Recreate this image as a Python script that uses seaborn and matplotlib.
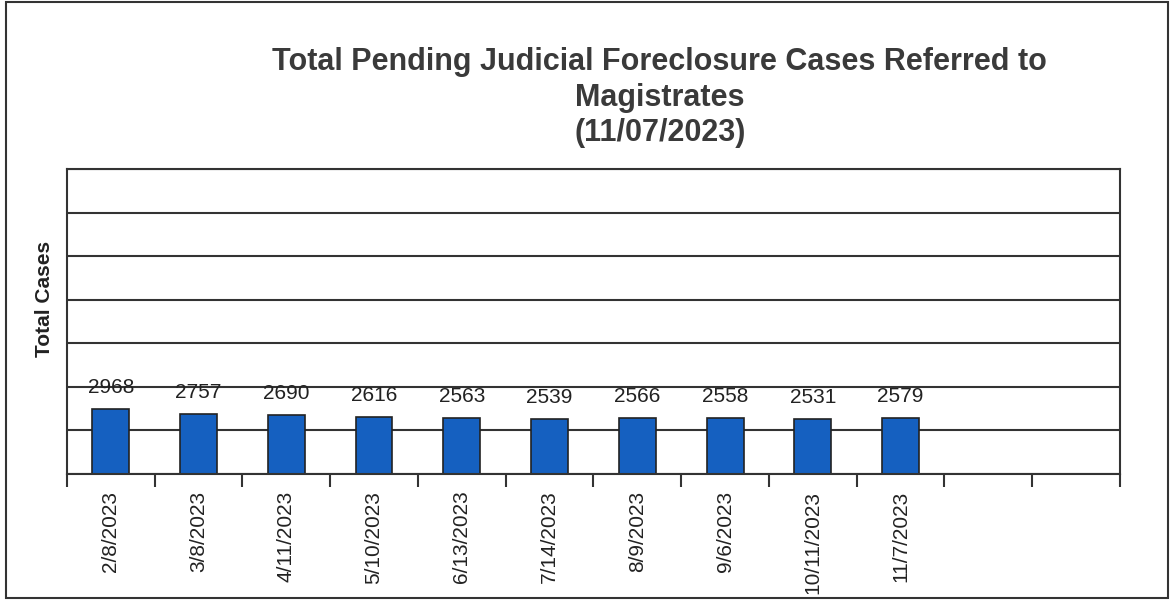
import numpy as np
import pandas as pd
import matplotlib
matplotlib.use("Agg")
import matplotlib.pyplot as plt
import seaborn as sns

# data
dates = ["2/8/2023", "3/8/2023", "4/11/2023", "5/10/2023", "6/13/2023",
         "7/14/2023", "8/9/2023", "9/6/2023", "10/11/2023", "11/7/2023"]
cases = [2968, 2757, 2690, 2616, 2563, 2539, 2566, 2558, 2531, 2579]
n_slots = 12  # chart leaves two empty slots on the right

df = pd.DataFrame({"date": dates, "cases": cases})

sns.set_theme(style="white")
plt.rcParams["font.family"] = ["Liberation Sans", "DejaVu Sans"]

fig = plt.figure(figsize=(11.74, 6.0), dpi=100)
ax = fig.add_axes([0.057, 0.21, 0.897, 0.508])

sns.barplot(data=df, x="date", y="cases", order=dates, color="#1560c0",
            saturation=1, width=0.42, edgecolor="#222222", linewidth=1.2, ax=ax)

ax.set_xlim(-0.5, n_slots - 0.5)
ax.set_ylim(0, 14000)
ax.set_yticks(np.arange(0, 14001, 2000))
ax.yaxis.grid(True, color="#333333", linewidth=1.5)
ax.set_axisbelow(True)
ax.tick_params(axis="y", left=False, labelleft=False)

# tick marks between categories, labels under bars
ax.set_xticks(range(len(dates)))
ax.set_xticklabels(dates, rotation=90, fontsize=15, color="#222222")
ax.set_xticks(np.arange(-0.5, n_slots, 1), minor=True)
ax.tick_params(axis="x", which="major", length=0, pad=12)
ax.tick_params(axis="x", which="minor", bottom=True, length=9, width=1.5,
               color="#333333", direction="out")

for s in ax.spines.values():
    s.set_color("#333333")
    s.set_linewidth(1.5)

for i, v in enumerate(cases):
    ax.text(i, v + 550, str(v), ha="center", va="bottom", fontsize=15,
            color="#222222")

ax.set_xlabel("")
ax.set_ylabel("Total Cases", fontsize=15, fontweight="bold", color="#222222")
ax.yaxis.set_label_coords(-0.012, 0.574)

title_kw = dict(ha="center", va="center", fontsize=22, fontweight="bold",
                color="#3a3a3a")
fig.text(0.562, 0.897, "Total Pending Judicial Foreclosure Cases Referred to", **title_kw)
fig.text(0.562, 0.837, "Magistrates", **title_kw)
fig.text(0.562, 0.778, "(11/07/2023)", **title_kw)

# outer border of the chart
fig.patches.append(plt.Rectangle((0.005, 0.004), 0.99, 0.992, transform=fig.transFigure,
                                 fill=False, edgecolor="#333333", linewidth=1.5))

fig.savefig("out.png", dpi=100)
